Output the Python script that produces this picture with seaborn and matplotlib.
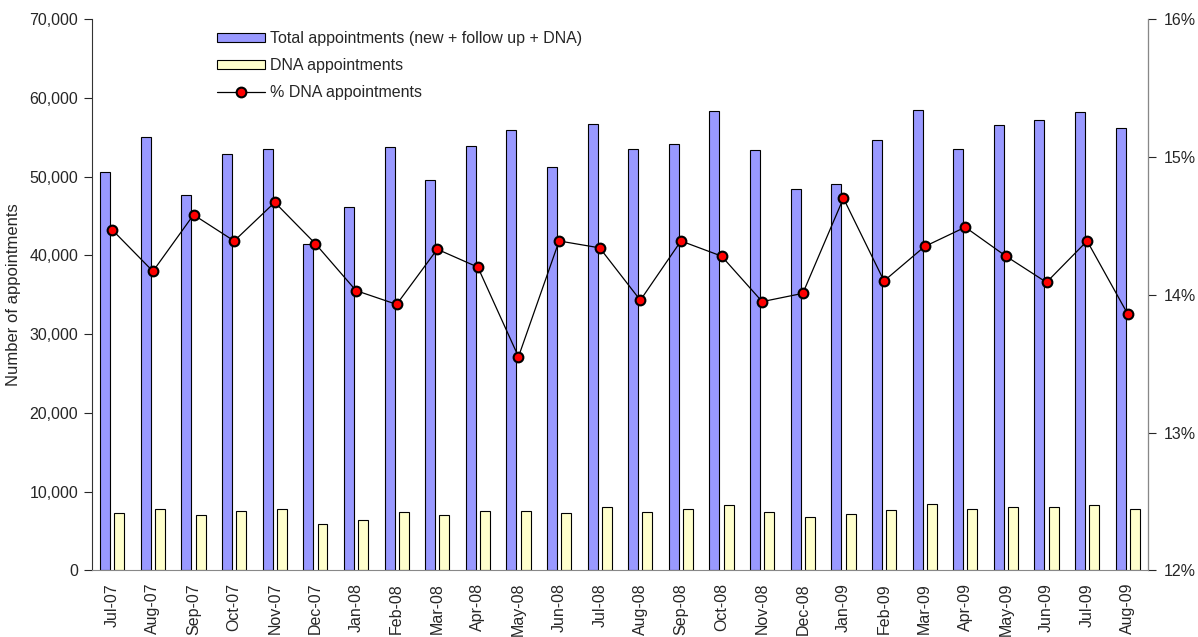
import numpy as np
import pandas as pd
import seaborn as sns
import matplotlib.pyplot as plt
from matplotlib.patches import Patch
from matplotlib.lines import Line2D
from matplotlib.ticker import FuncFormatter, MultipleLocator

months = ['Jul-07', 'Aug-07', 'Sep-07', 'Oct-07', 'Nov-07', 'Dec-07',
          'Jan-08', 'Feb-08', 'Mar-08', 'Apr-08', 'May-08', 'Jun-08',
          'Jul-08', 'Aug-08', 'Sep-08', 'Oct-08', 'Nov-08', 'Dec-08',
          'Jan-09', 'Feb-09', 'Mar-09', 'Apr-09', 'May-09', 'Jun-09',
          'Jul-09', 'Aug-09']
total_appts = [50600, 55000, 47700, 52800, 53500, 41500,
               46100, 53800, 49500, 53900, 55900, 51200,
               56700, 53500, 54100, 58300, 53400, 48400,
               49000, 54700, 58400, 53500, 56600, 57200,
               58200, 56100]
dna_appts = [7300, 7800, 7000, 7600, 7850, 5950,
             6450, 7450, 7100, 7600, 7550, 7350,
             8100, 7450, 7800, 8300, 7400, 6800,
             7200, 7700, 8400, 7750, 8100, 8050,
             8350, 7750]
dna_pct = [14.47, 14.17, 14.58, 14.39, 14.67, 14.37,
           14.03, 13.93, 14.33, 14.20, 13.55, 14.39,
           14.34, 13.96, 14.39, 14.28, 13.95, 14.01,
           14.70, 14.10, 14.35, 14.49, 14.28, 14.09,
           14.39, 13.86]

lbl_total = 'Total appointments (new + follow up + DNA)'
lbl_dna = 'DNA appointments'
lbl_pct = '% DNA appointments'

sns.set_style("white")
plt.rcParams['font.family'] = ['Liberation Sans', 'DejaVu Sans']
fs = 11.5

df = pd.DataFrame({
    'month': months * 2,
    'count': total_appts + dna_appts,
    'series': [lbl_total] * len(months) + [lbl_dna] * len(months),
})

fig = plt.figure(figsize=(11.98, 6.37), dpi=100)
ax = fig.add_axes([0.0768, 0.1044, 0.9583 - 0.0768, 0.9702 - 0.1044])

sns.barplot(data=df, x='month', y='count', hue='series', order=months,
            palette=['#9999FF', '#FFFFCC'], width=0.7, gap=0.3,
            edgecolor='black', linewidth=0.8, saturation=1, ax=ax)
ax.get_legend().remove()
ax.set_xlim(-0.5, len(months) - 0.5)
ax.set_ylim(0, 70000)
ax.yaxis.set_major_locator(MultipleLocator(10000))
ax.yaxis.set_major_formatter(FuncFormatter(lambda v, p: '{:,.0f}'.format(v)))
ax.set_xlabel('')
ax.set_ylabel('Number of appointments', fontsize=fs + 0.5, labelpad=6)
ax.set_xticks(np.arange(len(months)))
ax.set_xticklabels(months, rotation=90, fontsize=fs)
ax.set_xticks(np.arange(len(months) + 1) - 0.5, minor=True)
ax.tick_params(axis='x', which='major', length=0, pad=9)
ax.tick_params(axis='x', which='minor', length=5, direction='out', color='#555555')
ax.tick_params(axis='y', length=6, direction='out', left=True, labelsize=fs, pad=4)
ax.spines['top'].set_visible(False)
ax.spines['left'].set_color('#333333')
ax.spines['bottom'].set_color('#888888')

ax2 = ax.twinx()
sns.lineplot(x=np.arange(len(months)), y=dna_pct, color='black', linewidth=0.9,
             marker='o', markersize=7, markerfacecolor='red',
             markeredgecolor='black', markeredgewidth=1.5, ax=ax2)
ax2.set_ylim(12, 16)
ax2.yaxis.set_major_locator(MultipleLocator(1))
ax2.yaxis.set_major_formatter(FuncFormatter(lambda v, p: '{:.0f}%'.format(v)))
ax2.tick_params(axis='y', length=6, direction='out', right=True, labelsize=fs, pad=5)
ax2.spines['top'].set_visible(False)
ax2.spines['left'].set_visible(False)
ax2.spines['bottom'].set_visible(False)
ax2.spines['right'].set_color('#888888')

handles = [
    Patch(facecolor='#9999FF', edgecolor='black', linewidth=0.8),
    Patch(facecolor='#FFFFCC', edgecolor='black', linewidth=0.8),
    Line2D([], [], color='black', linewidth=0.9, marker='o', markersize=7,
           markerfacecolor='red', markeredgecolor='black', markeredgewidth=1.5),
]
fig.legend(handles, [lbl_total, lbl_dna, lbl_pct], loc='upper left',
           bbox_to_anchor=(0.181, 0.951), frameon=False, fontsize=fs,
           handlelength=3.0, handleheight=0.45, handletextpad=0.3,
           labelspacing=0.75, borderaxespad=0, borderpad=0)

plt.savefig('out.png', dpi=100)
